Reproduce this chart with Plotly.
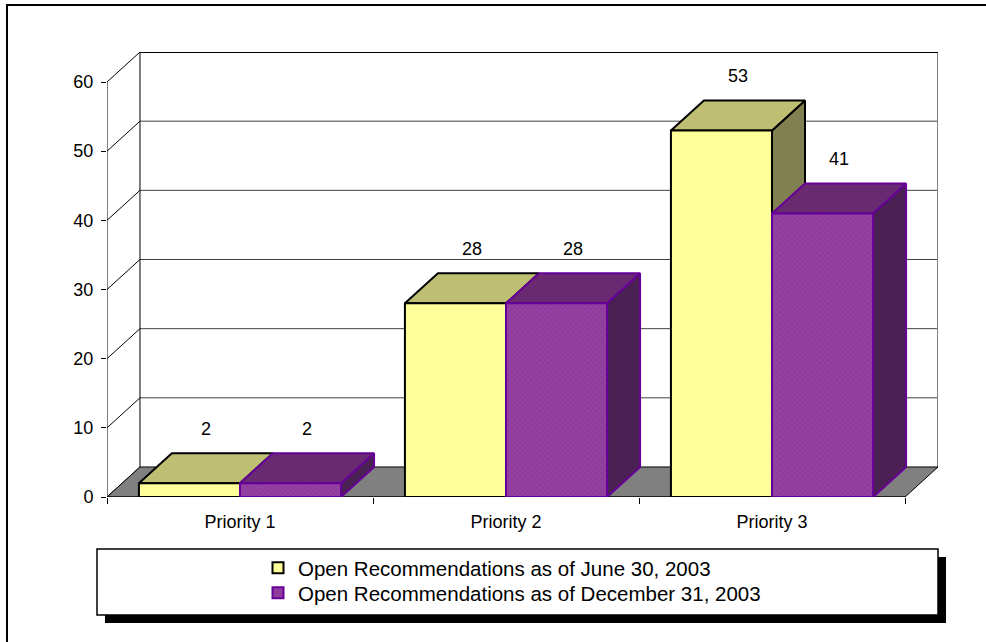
import plotly.graph_objects as go

categories = ["Priority 1", "Priority 2", "Priority 3"]
series_names = ["Open Recommendations as of June 30, 2003",
                "Open Recommendations as of December 31, 2003"]
june_values = [2, 28, 53]
december_values = [2, 28, 41]
y_ticks = [0, 10, 20, 30, 40, 50, 60]

# 3D styling (depth offsets in data units)
DX = 0.124
DY = 4.34
BAR_W = 0.38
Y_MAX = 60

styles = [
    dict(front="#FFFF99", top="#BFBF73", side="#808050", line="#000000", pattern=None),
    dict(front="#8E3B9B", top="#692A72", side="#4A2152", line="#660099",
         pattern=dict(shape="x", size=4, solidity=0.25, fgcolor="#74298A", bgcolor="#9441A2")),
]

FONT = "Liberation Sans, Arial, sans-serif"
NARROW = "Liberation Sans Narrow, Arial Narrow, Liberation Sans, sans-serif"

fig = go.Figure()

def poly(xs, ys, fill, line, width=1, pattern=None):
    tr = go.Scatter(x=xs + [xs[0]], y=ys + [ys[0]], mode="lines", fill="toself",
                    fillcolor=fill, line=dict(color=line, width=width),
                    hoverinfo="skip", showlegend=False)
    if pattern:
        tr.fillpattern = pattern
    fig.add_trace(tr)

def seg(xs, ys, color, width=1):
    fig.add_trace(go.Scatter(x=xs, y=ys, mode="lines", line=dict(color=color, width=width),
                             hoverinfo="skip", showlegend=False))

x_left = -0.5
x_right = len(categories) - 0.5

# back wall gridlines and diagonals on the left wall
for v in y_ticks:
    if v > 0:
        seg([x_left + DX, x_right + DX], [v + DY, v + DY], "#404040", 1)
    seg([x_left, x_left + DX], [v, v + DY], "#000000", 1)
# back wall edges
seg([x_left + DX, x_left + DX], [DY, Y_MAX + DY], "#000000", 1)
seg([x_right + DX, x_right + DX], [DY, Y_MAX + DY], "#808080", 2)
seg([x_left + DX, x_right + DX], [Y_MAX + DY, Y_MAX + DY], "#000000", 2)
# floor
poly([x_left, x_right, x_right + DX, x_left + DX], [0, 0, DY, DY], "#808080", "#000000", 1)
# front axis lines
seg([x_left, x_left], [0, Y_MAX], "#000000", 1)
seg([x_left, x_right], [0, 0], "#000000", 1)

# bars
annotations = []
for i, cat in enumerate(categories):
    for s, vals in enumerate([june_values, december_values]):
        v = vals[i]
        st = styles[s]
        x0 = i - BAR_W + s * BAR_W
        x1 = x0 + BAR_W
        # side face
        poly([x1, x1 + DX, x1 + DX, x1], [0, DY, v + DY, v], st["side"], st["line"], 2)
        # top face
        poly([x0, x1, x1 + DX, x0 + DX], [v, v, v + DY, v + DY], st["top"], st["line"], 2)
        # front face
        poly([x0, x1, x1, x0], [0, 0, v, v], st["front"], st["line"], 2, st["pattern"])
        annotations.append(dict(x=(x0 + x1) / 2 + DX / 2, y=v + DY, text=str(v),
                                showarrow=False, yanchor="middle", yshift=24,
                                font=dict(family=FONT, size=18, color="#000000")))

# pixel geometry helpers for paper-referenced decorations
L, T, W, H = 107, 52, 831, 445
def px(x):
    return (x - L) / W
def py(y):
    return (T + H - y) / H

# legend entries (one legend per row for exact row spacing)
legend_ids = ["legend", "legend2"]
legend_tops = [548, 573]
for s, name in enumerate(series_names):
    st = styles[s]
    fig.add_trace(go.Scatter(x=[None], y=[None], mode="markers", name=name,
                             legend=legend_ids[s],
                             marker=dict(symbol="square", size=11, color=st["front"],
                                         line=dict(color=st["line"], width=2))))

legend_common = dict(xanchor="left", yanchor="top", bgcolor="rgba(0,0,0,0)", borderwidth=0,
                     font=dict(family=NARROW, size=20.5, color="#000000"), itemwidth=30)

shapes = [
    # outer chart border
    dict(type="rect", xref="paper", yref="paper", x0=px(7), x1=px(995), y0=py(5), y1=py(650),
         line=dict(color="#000000", width=2), fillcolor="rgba(0,0,0,0)", layer="below"),
    # legend shadow
    dict(type="rect", xref="paper", yref="paper", x0=px(105), x1=px(946), y0=py(557), y1=py(623),
         line=dict(width=0), fillcolor="#000000", layer="above"),
    # legend box
    dict(type="rect", xref="paper", yref="paper", x0=px(97), x1=px(938), y0=py(549), y1=py(615),
         line=dict(color="#000000", width=1.5), fillcolor="#FFFFFF", layer="above"),
]

fig.update_layout(
    width=986, height=642,
    margin=dict(l=L, r=986 - L - W, t=T, b=642 - T - H, autoexpand=False),
    paper_bgcolor="#FFFFFF", plot_bgcolor="#FFFFFF",
    showlegend=True,
    legend=dict(x=px(258), y=py(legend_tops[0]), **legend_common),
    legend2=dict(x=px(258), y=py(legend_tops[1]), **legend_common),
    xaxis=dict(range=[x_left, x_right + DX], tickmode="array",
               tickvals=list(range(len(categories))), ticktext=categories,
               ticks="outside", ticklen=8, tickcolor="rgba(0,0,0,0)",
               minor=dict(tickmode="array", tickvals=[i - 0.5 for i in range(len(categories) + 1)],
                          ticks="outside", ticklen=6, tickcolor="#000000", tickwidth=1),
               showgrid=False, zeroline=False, showline=False, fixedrange=True,
               tickfont=dict(family=FONT, size=18, color="#000000")),
    yaxis=dict(range=[0, Y_MAX + DY], tickmode="array", tickvals=y_ticks,
               ticks="outside", ticklen=5, tickcolor="#000000", ticklabelstandoff=4,
               showgrid=False, zeroline=False, showline=False, fixedrange=True,
               tickfont=dict(family=FONT, size=18, color="#000000")),
    shapes=shapes,
    annotations=annotations,
)

fig.write_html("out.html")
